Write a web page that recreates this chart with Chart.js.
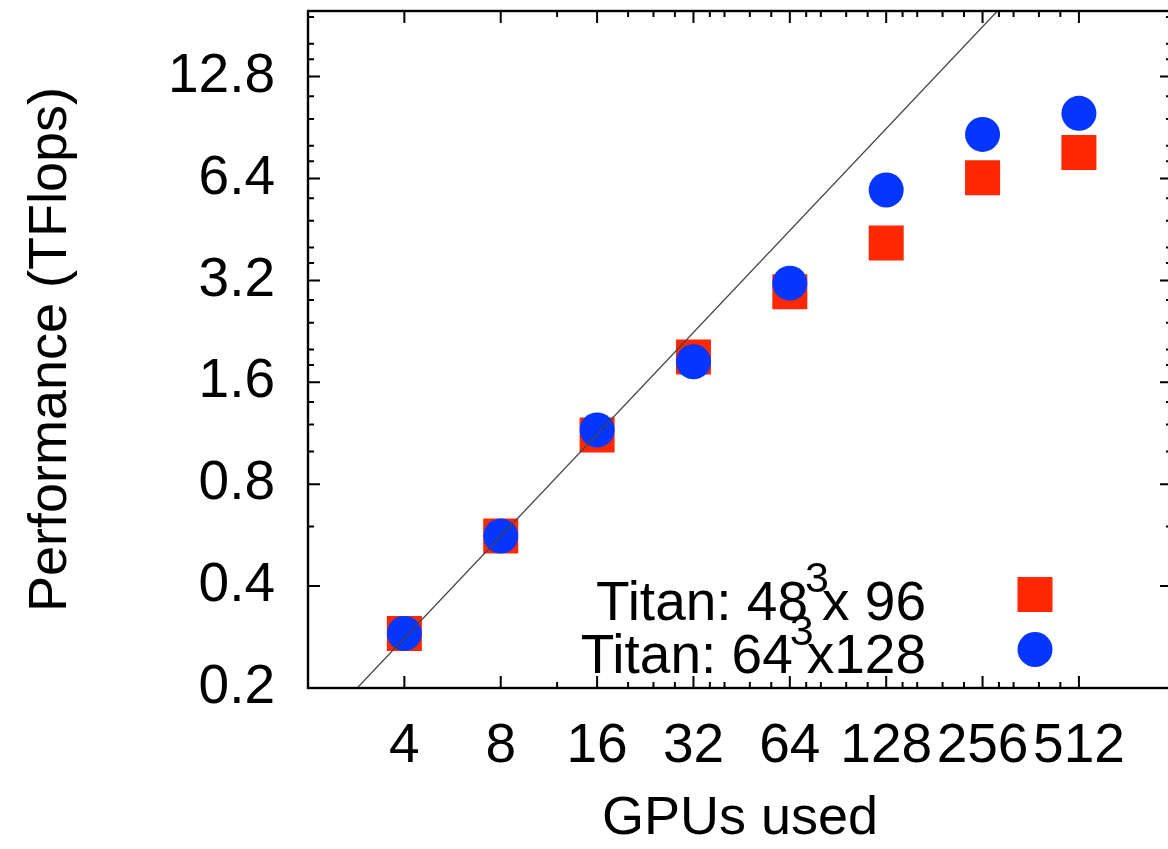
<!DOCTYPE html>
<html>
<head>
<meta charset="utf-8">
<script src="https://cdn.jsdelivr.net/npm/chart.js@4/dist/chart.umd.min.js"></script>
<style>
  html, body { margin: 0; padding: 0; background: #fff; overflow: hidden; }
  canvas { display: block; }
</style>
</head>
<body>
<canvas id="perf" width="1172" height="849"></canvas>
<script>
// GPU counts and measured performance (TFlops) for the two lattice sizes
const gpus = [4, 8, 16, 32, 64, 128, 256, 512];
const perfLattice48 = [0.290, 0.562, 1.118, 1.90, 2.96, 4.13, 6.43, 7.64];
const perfLattice64 = [0.290, 0.562, 1.157, 1.84, 3.14, 5.92, 8.64, 9.97];
const seriesNames = ['Titan: 48^3x 96', 'Titan: 64^3x128'];

// perfect linear scaling reference: TFlops per GPU
const idealPerGpu = 0.0702;
const idealGpuRange = [2, 1000];

// axis ranges and tick marks
const xRange = [2, 1000];
const yRange = [0.2, 20];
const xTicks = [4, 8, 16, 32, 64, 128, 256, 512];
const xMinorTicks = [12, 20, 24, 28, 36, 40, 48, 56, 72, 80, 96, 112, 144, 160, 192, 224, 288, 320, 384, 448];
const yTicks = [0.2, 0.4, 0.8, 1.6, 3.2, 6.4, 12.8];
const yMinorTicks = [0.6, 1.0, 1.2, 1.4, 1.8, 2.0, 2.4, 2.8, 3.6, 4.0, 4.8, 5.6, 7.2, 8, 9.6, 11.2, 14.4, 16, 19.2];
const xTitle = 'GPUs used';
const yTitle = 'Performance (TFlops)';

const RED = '#ff2800';
const BLUE = '#0536ff';
const FONT = '"Liberation Sans", Arial, Helvetica, sans-serif';

const toPoints = (vals) => gpus.map((g, i) => ({ x: g, y: vals[i] }));

// gnuplot-style frame with inward major/minor tick marks on all four sides
const frameAndTicks = {
  id: 'frameAndTicks',
  afterDraw(chart) {
    const { ctx, chartArea: a, scales: { x, y } } = chart;
    const MAJOR = 12, MINOR = 6;
    ctx.save();
    ctx.strokeStyle = '#000';
    ctx.lineWidth = 2;
    ctx.beginPath();
    const tickX = (v, len) => {
      const px = x.getPixelForValue(v);
      ctx.moveTo(px, a.bottom); ctx.lineTo(px, a.bottom - len);
      ctx.moveTo(px, a.top); ctx.lineTo(px, a.top + len);
    };
    const tickY = (v, len) => {
      const py = y.getPixelForValue(v);
      ctx.moveTo(a.left, py); ctx.lineTo(a.left + len, py);
      ctx.moveTo(a.right, py); ctx.lineTo(a.right - len, py);
    };
    xTicks.forEach(v => tickX(v, MAJOR));
    xMinorTicks.forEach(v => tickX(v, MINOR));
    yTicks.forEach(v => tickY(v, MAJOR));
    yMinorTicks.forEach(v => tickY(v, MINOR));
    ctx.stroke();
    ctx.lineWidth = 2.4;
    ctx.strokeRect(a.left, a.top, a.right - a.left, a.bottom - a.top);
    ctx.restore();
  }
};

// key: right-aligned labels with a superscript exponent, symbol to the right
const KEY = { textRight: 926, symbolX: 1035, rows: [{ base: 620, sym: 594.5 }, { base: 673, sym: 649.5 }] };
const keyPlugin = {
  id: 'key',
  afterDatasetsDraw(chart) {
    const { ctx } = chart;
    ctx.save();
    ctx.fillStyle = '#000';
    ctx.textBaseline = 'alphabetic';
    const mainFont = '55px ' + FONT;
    const supFont = '43px ' + FONT;
    seriesNames.forEach((name, i) => {
      const row = KEY.rows[i];
      const m = name.match(/^(.*?)\^(\S)(.*)$/);
      const head = m[1], sup = m[2], tail = m[3];
      ctx.font = mainFont;
      ctx.textAlign = 'right';
      ctx.fillText(tail, KEY.textRight, row.base);
      const tailLeft = KEY.textRight - ctx.measureText(tail).width;
      const headRight = tailLeft - 14;
      ctx.fillText(head, headRight, row.base);
      ctx.font = supFont;
      ctx.textAlign = 'left';
      ctx.fillText(sup, headRight - 3, row.base - 28);

      const ds = chart.data.datasets[i === 0 ? 2 : 1];
      ctx.fillStyle = ds.backgroundColor;
      Chart.helpers.drawPoint(ctx, { pointStyle: ds.pointStyle, radius: ds.pointRadius, rotation: 0, borderWidth: 0 }, KEY.symbolX, row.sym);
      ctx.fillStyle = '#000';
    });
    ctx.restore();
  }
};

const fixY = (scale) => { scale.width = 308; scale.paddingTop = 0; scale.paddingBottom = 0; };
const fixX = (scale) => { scale.height = 161; scale.paddingLeft = 0; scale.paddingRight = 0; };

new Chart(document.getElementById('perf'), {
  type: 'scatter',
  data: {
    datasets: [
      {
        type: 'line',
        label: 'ideal',
        data: idealGpuRange.map(g => ({ x: g, y: idealPerGpu * g })),
        borderColor: '#444',
        borderWidth: 1.3,
        pointRadius: 0,
        fill: false
      },
      {
        label: seriesNames[1],
        data: toPoints(perfLattice64),
        pointStyle: 'circle',
        pointRadius: 17.5,
        backgroundColor: BLUE,
        borderWidth: 0
      },
      {
        label: seriesNames[0],
        data: toPoints(perfLattice48),
        pointStyle: 'rect',
        pointRadius: 24.75,
        backgroundColor: RED,
        borderWidth: 0
      }
    ]
  },
  options: {
    responsive: false,
    animation: false,
    events: [],
    layout: { autoPadding: false, padding: { top: 11, left: 0, right: 0, bottom: 0 } },
    plugins: { legend: { display: false }, tooltip: { enabled: false } },
    elements: { point: { hoverRadius: 0 } },
    scales: {
      x: {
        type: 'logarithmic',
        min: xRange[0],
        max: xRange[1],
        afterBuildTicks: (s) => { s.ticks = xTicks.map(v => ({ value: v })); },
        afterFit: fixX,
        grid: { display: false, drawTicks: false, tickLength: 0 },
        border: { display: false },
        ticks: {
          autoSkip: false, maxRotation: 0, minRotation: 0,
          padding: 26,
          color: '#000',
          font: { family: FONT, size: 55 },
          callback: (v) => String(v)
        },
        title: {
          display: true, text: xTitle, color: '#000',
          font: { family: FONT, size: 54, lineHeight: 1 },
          padding: { top: 0, bottom: 3 }
        }
      },
      y: {
        type: 'logarithmic',
        min: yRange[0],
        max: yRange[1],
        afterBuildTicks: (s) => { s.ticks = yTicks.map(v => ({ value: v })); },
        afterFit: fixY,
        grid: { display: false, drawTicks: false, tickLength: 0 },
        border: { display: false },
        ticks: {
          autoSkip: false,
          padding: 33,
          color: '#000',
          font: { family: FONT, size: 55 },
          callback: (v) => String(v)
        },
        title: {
          display: true, text: yTitle, color: '#000',
          font: { family: FONT, size: 54, lineHeight: 1 },
          padding: { top: 24, bottom: 0 }
        }
      }
    }
  },
  plugins: [frameAndTicks, keyPlugin]
});
</script>
</body>
</html>
